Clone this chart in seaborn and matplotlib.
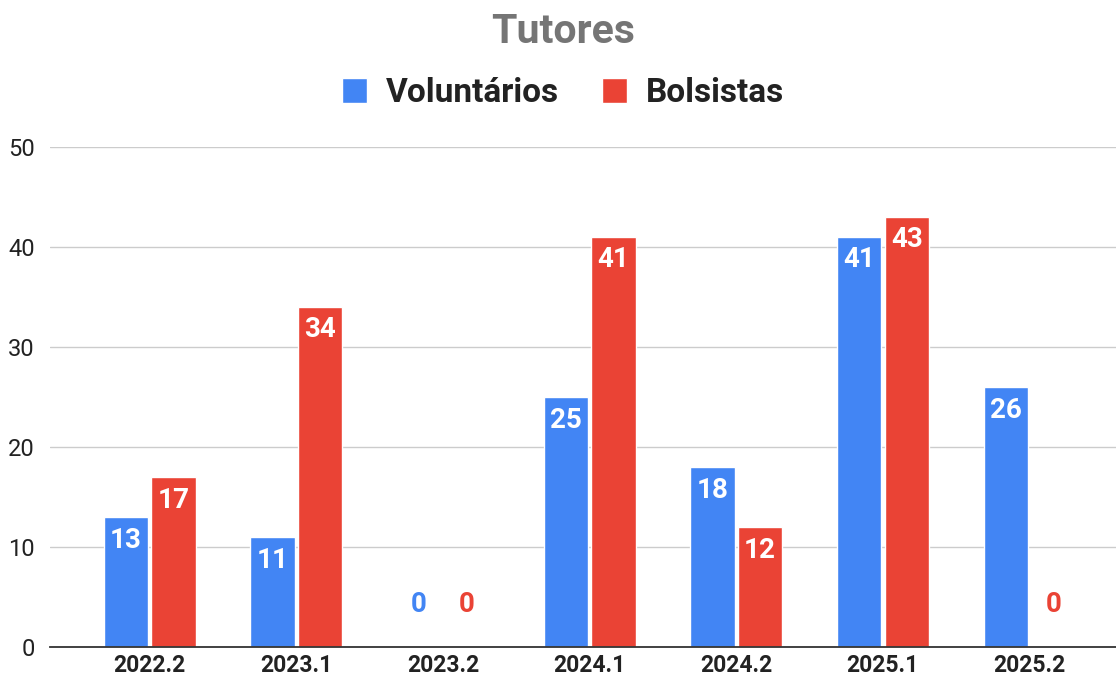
import pandas as pd
import seaborn as sns
import matplotlib.pyplot as plt
from matplotlib.patches import Patch

semesters = ["2022.2", "2023.1", "2023.2", "2024.1", "2024.2", "2025.1", "2025.2"]
voluntarios = [13, 11, 0, 25, 18, 41, 26]
bolsistas = [17, 34, 0, 41, 12, 43, 0]
series_names = ["Voluntários", "Bolsistas"]
colors = ["#4285F4", "#EA4335"]


def build_frame() -> pd.DataFrame:
    rows = []
    for name, values in zip(series_names, [voluntarios, bolsistas]):
        for sem, v in zip(semesters, values):
            rows.append({"Semestre": sem, "Tipo": name, "Tutores": v})
    return pd.DataFrame(rows)


def main():
    df = build_frame()
    sns.set_theme(style="white")
    plt.rcParams["font.family"] = ["Roboto", "DejaVu Sans"]

    fig = plt.figure(figsize=(11.16, 6.81), dpi=100)
    ax = fig.add_axes([50 / 1116, 34 / 681, 1066 / 1116, 500 / 681])
    sns.barplot(data=df, x="Semestre", y="Tutores", hue="Tipo",
                palette=colors, width=0.65, gap=0.07, ax=ax,
                legend=False, saturation=1)

    ax.set_ylim(0, 50)
    ax.set_xlim(-0.68, 6.59)
    ax.set_yticks([0, 10, 20, 30, 40, 50])
    ax.yaxis.grid(True, color="#cccccc", linewidth=1)
    ax.set_axisbelow(True)
    for side in ["left", "right", "top"]:
        ax.spines[side].set_visible(False)
    ax.spines["bottom"].set_color("#333333")
    ax.spines["bottom"].set_linewidth(1.3)
    ax.set_xlabel("")
    ax.set_ylabel("")
    ax.tick_params(axis="both", length=0, colors="#222222")
    ax.tick_params(axis="y", labelsize=17, pad=11)
    ax.tick_params(axis="x", labelsize=16.5, pad=5)
    for lbl in ax.get_xticklabels():
        lbl.set_fontweight("bold")

    # value labels
    for container, color in zip(ax.containers, colors):
        for bar in container:
            h = bar.get_height()
            cx = bar.get_x() + bar.get_width() / 2
            if h > 0:
                ax.text(cx, h - 2.3, f"{int(h)}", ha="center", va="center",
                        color="white", fontsize=20, fontweight="bold")
            else:
                ax.text(cx, 4.3, "0", ha="center", va="center",
                        color=color, fontsize=20, fontweight="bold")

    fig.text(563 / 1116, 1 - 32 / 681, "Tutores", ha="center", va="center",
             fontsize=29.5, fontweight="bold", color="#757575")
    handles = [Patch(facecolor=c, label=n) for c, n in zip(colors, series_names)]
    fig.legend(handles=handles, loc="center", ncol=2,
               bbox_to_anchor=(563 / 1116, 1 - 93 / 681), frameon=False,
               prop={"size": 24, "weight": "bold"}, handlelength=0.75,
               handleheight=0.75, handletextpad=0.55, columnspacing=1.3,
               labelcolor="#222222")

    fig.savefig("out.png", dpi=100)


if __name__ == "__main__":
    main()
